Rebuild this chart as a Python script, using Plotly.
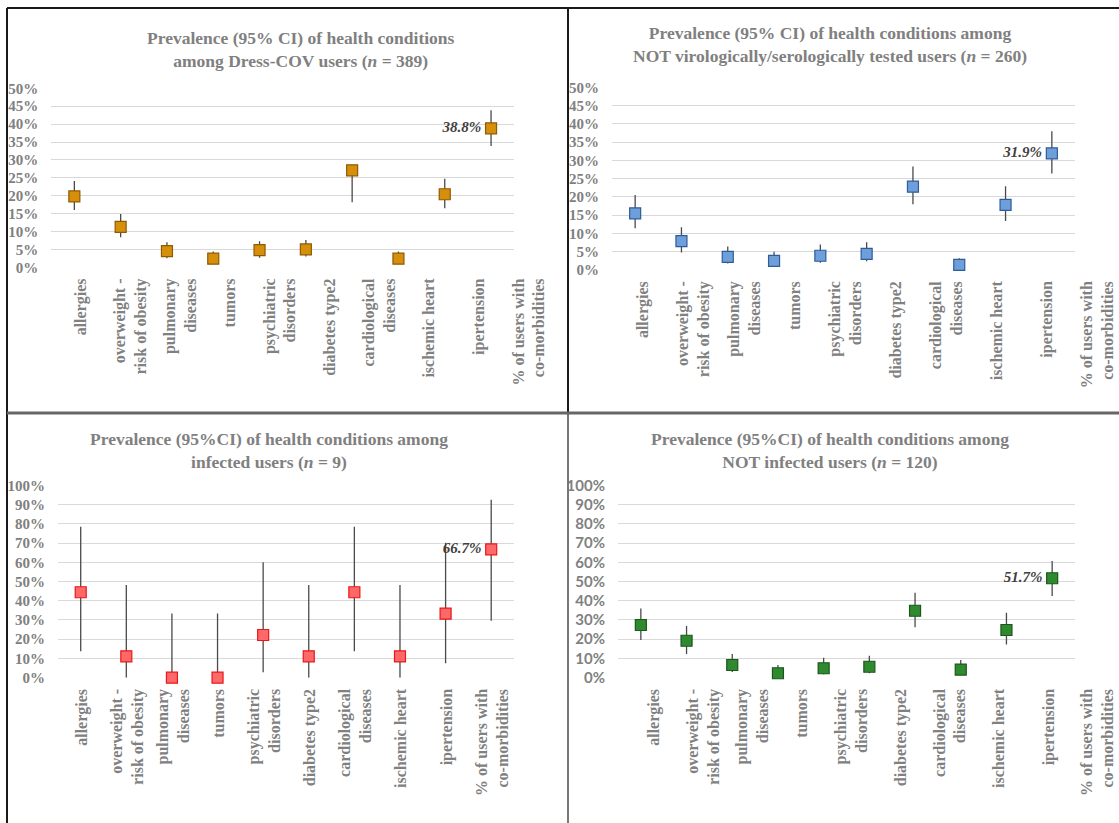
import plotly.graph_objects as go

W, H = 1119, 823

categories = ["allergies", "overweight -<br>risk of obesity", "pulmonary<br>diseases", "tumors",
              "psychiatric<br>disorders", "diabetes type2", "cardiological<br>diseases",
              "ischemic heart", "ipertension", "% of users with<br>co-morbidities"]

# Panel 1: Dress-COV users (n = 389)
p1_val = [19.8, 11.3, 4.5, 2.4, 4.8, 5.0, 27.1, 2.4, 20.4, 38.8]
p1_hi = [24.1, 14.9, 7.0, 4.4, 7.3, 7.6, 27.8, 4.4, 24.7, 43.9]
p1_lo = [16.0, 8.4, 2.5, 1.0, 2.7, 3.0, 18.2, 1.0, 16.5, 33.9]

# Panel 2: NOT virologically/serologically tested users (n = 260)
p2_val = [15.5, 7.9, 3.6, 2.5, 3.9, 4.4, 22.8, 1.4, 17.8, 31.9]
p2_hi = [20.5, 11.7, 6.4, 5.0, 7.0, 7.6, 28.3, 3.2, 22.9, 38.0]
p2_lo = [11.4, 4.8, 1.8, 1.0, 2.0, 2.4, 18.0, 0.4, 13.4, 26.4]

# Panel 3: infected users (n = 9)
p3_val = [44.4, 11.1, 0.0, 0.0, 22.2, 11.1, 44.4, 11.1, 33.3, 66.7]
p3_hi = [78.5, 48.2, 33.4, 33.4, 60.0, 48.2, 78.5, 48.2, 70.2, 92.5]
p3_lo = [13.7, 0.0, 0.0, 0.0, 2.8, 0.0, 13.7, 0.0, 7.5, 29.6]

# Panel 4: NOT infected users (n = 120)
p4_val = [27.4, 19.2, 6.6, 2.3, 4.9, 5.7, 34.8, 4.2, 24.8, 51.7]
p4_hi = [36.0, 26.9, 12.3, 6.6, 10.4, 11.4, 44.2, 9.2, 33.8, 60.7]
p4_lo = [19.6, 12.3, 2.9, 0.5, 1.8, 2.3, 26.2, 1.4, 17.3, 42.5]

titles = [
    "Prevalence (95% CI) of health conditions<br>among Dress-COV users (<i>n</i> = 389)",
    "Prevalence (95% CI) of health conditions among<br>NOT virologically/serologically tested users (<i>n</i> = 260)",
    "Prevalence (95%CI) of health conditions among<br>infected users (<i>n</i> = 9)",
    "Prevalence (95%CI) of health conditions among<br>NOT infected users (<i>n</i> = 120)",
]

SERIF = "Liberation Serif"
SANS = "Lato"
GRAY = "#808080"


def xd(a, b):
    return [a / W, b / W]


def yd(top, bottom):
    return [(H - bottom) / H, (H - top) / H]


# layout geometry (pixels): plot x-span, y-span, label-axis span, first label px, label spacing px
panels = [
    dict(val=p1_val, hi=p1_hi, lo=p1_lo, fill="#D68F0A", line="#8F5A00", ymax=50, dtick=5,
         x=(51.2, 514.2), y=(88.3, 267.3), lab=(51.2, 567), l0=80.5, ls=49.8,
         tfont=SERIF, tsize=15, tweight="bold", tcx=301, tcy=49),
    dict(val=p2_val, hi=p2_hi, lo=p2_lo, fill="#6E9FDA", line="#2E5C98", ymax=50, dtick=5,
         x=(612, 1075), y=(87.3, 270), lab=(612, 1119), l0=643, ls=50.5,
         tfont=SERIF, tsize=15, tweight="bold", tcx=830, tcy=44),
    dict(val=p3_val, hi=p3_hi, lo=p3_lo, fill="#FF6868", line="#E81818", ymax=100, dtick=10,
         x=(57.9, 514), y=(485.3, 677.7), lab=(57.9, 567), l0=82, ls=45.6,
         tfont=SERIF, tsize=15, tweight="bold", tcx=269, tcy=450),
    dict(val=p4_val, hi=p4_hi, lo=p4_lo, fill="#2F8A2F", line="#1B561B", ymax=100, dtick=10,
         x=(618, 1075), y=(485.3, 677.7), lab=(618, 1119), l0=654, ls=49.3,
         tfont=SANS, tsize=15, tweight="bold", tcx=830, tcy=450),
]

fig = go.Figure()
annotations = []
for i, p in enumerate(panels):
    n = "" if i == 0 else str(i + 1)
    xa, ya = "x" + n, "y" + n
    plus = [h - v for h, v in zip(p["hi"], p["val"])]
    minus = [v - l for v, l in zip(p["val"], p["lo"])]
    fig.add_trace(go.Scatter(
        x=categories, y=p["val"], mode="markers", xaxis=xa, yaxis=ya, cliponaxis=False,
        marker=dict(symbol="square", size=11, color=p["fill"], line=dict(color=p["line"], width=1.2)),
        error_y=dict(type="data", symmetric=False, array=plus, arrayminus=minus,
                     color="#4a4a4a", thickness=1.3, width=0),
        showlegend=False, hovertemplate="%{x}: %{y:.1f}%<extra></extra>"))
    # data label on last point (invisible marker gives the text its offset)
    fig.add_trace(go.Scatter(
        x=[categories[-1]], y=[p["val"][-1]], mode="markers+text", xaxis=xa, yaxis=ya,
        marker=dict(size=14, color="rgba(0,0,0,0)"), cliponaxis=False,
        text=[f"<b><i>{p['val'][-1]:.1f}%</i></b>"], textposition="middle left",
        textfont=dict(family=SERIF, size=15, color="#404040"),
        showlegend=False, hoverinfo="skip"))
    fig.layout["xaxis" + n] = dict(
        domain=xd(*p["x"]), anchor=ya, type="category", range=[-0.5, 9.5], automargin=False,
        showgrid=False, zeroline=False, showline=False, showticklabels=False, ticks="",
        fixedrange=True)
    fig.layout["yaxis" + n] = dict(
        domain=yd(*p["y"]), anchor=xa, range=[0, p["ymax"]], dtick=p["dtick"], tick0=0,
        ticksuffix="%", showgrid=True, gridcolor="#D9D9D9", gridwidth=1, zeroline=False,
        showline=False, ticks="", ticklabelstandoff=12, automargin=False,
        tickfont=dict(family=p["tfont"], size=p["tsize"], color=GRAY, weight=p["tweight"]),
        fixedrange=True)
    # category-label axis (its own subplot so the labels keep the reference spacing)
    m = str(i + 5)
    a, b = p["lab"]
    fig.add_trace(go.Scatter(x=[], y=[], xaxis="x" + m, yaxis="y" + m, mode="markers",
                             showlegend=False, hoverinfo="skip"))
    fig.layout["xaxis" + m] = dict(
        domain=xd(a, b), anchor="y" + m, type="linear",
        range=[(a - p["l0"]) / p["ls"], (b - p["l0"]) / p["ls"]],
        tickmode="array", tickvals=list(range(len(categories))), ticktext=categories,
        showgrid=False, zeroline=False, showline=False, ticks="", tickangle=-90,
        tickfont=dict(family=SERIF, size=16, color=GRAY, weight="bold"),
        ticklabelstandoff=7, automargin=False, fixedrange=True)
    fig.layout["yaxis" + m] = dict(
        domain=yd(*p["y"]), anchor="x" + m, range=[0, 1], showgrid=False, zeroline=False,
        showticklabels=False, ticks="", showline=False, automargin=False, fixedrange=True)
    annotations.append(dict(
        text=titles[i], x=p["tcx"] / W, y=(H - p["tcy"]) / H, xref="paper", yref="paper",
        xanchor="center", yanchor="middle", showarrow=False,
        font=dict(family=SERIF, size=17.5, color=GRAY, weight="bold")))

shapes = [
    dict(type="line", xref="paper", yref="paper", x0=7 / W, x1=1119 / W, y0=(H - 8) / H, y1=(H - 8) / H,
         line=dict(color="#1a1a1a", width=2)),
    dict(type="line", xref="paper", yref="paper", x0=7 / W, x1=7 / W, y0=0, y1=(H - 8) / H,
         line=dict(color="#1a1a1a", width=2)),
    dict(type="line", xref="paper", yref="paper", x0=568 / W, x1=568 / W, y0=(H - 413) / H, y1=(H - 8) / H,
         line=dict(color="#1a1a1a", width=2)),
    dict(type="line", xref="paper", yref="paper", x0=568 / W, x1=568 / W, y0=0, y1=(H - 413) / H,
         line=dict(color="#777777", width=2)),
    dict(type="line", xref="paper", yref="paper", x0=7 / W, x1=1119 / W, y0=(H - 413) / H, y1=(H - 413) / H,
         line=dict(color="#666666", width=3)),
]

fig.update_layout(
    width=W, height=H, margin=dict(l=0, r=0, t=0, b=0, autoexpand=False),
    paper_bgcolor="white", plot_bgcolor="rgba(0,0,0,0)",
    annotations=annotations, shapes=shapes, showlegend=False)

fig.write_html("out.html", config={"displayModeBar": False},
               post_script="document.body.style.margin='0';document.body.style.overflow='hidden';")
